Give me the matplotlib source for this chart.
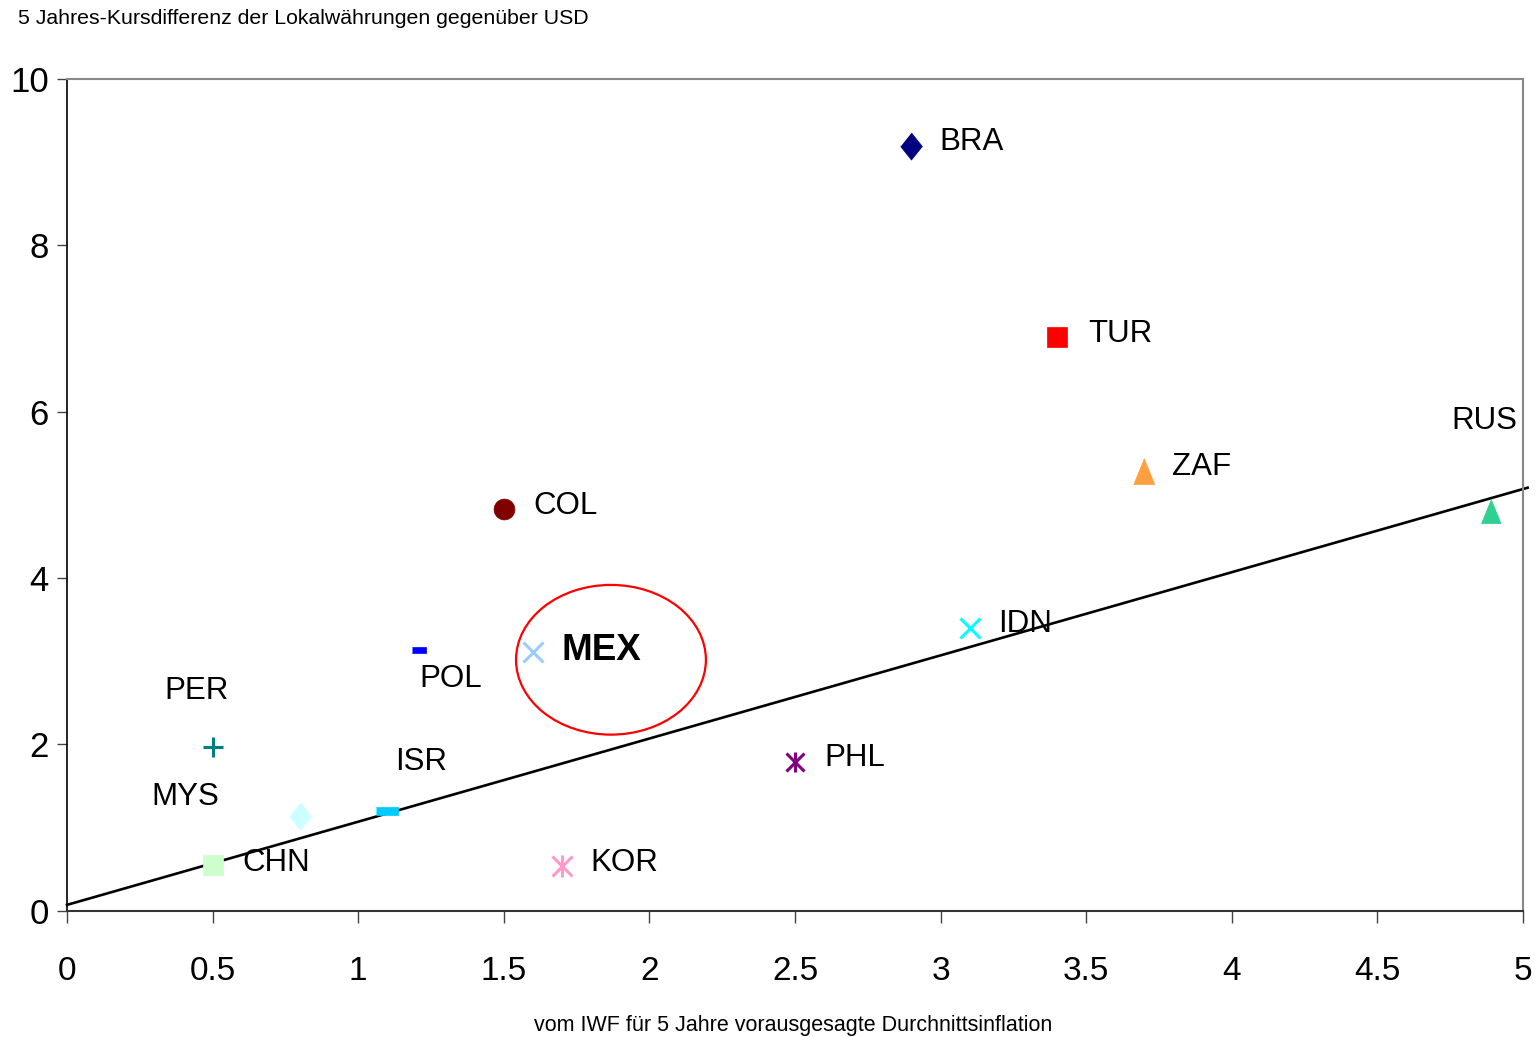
import matplotlib
matplotlib.use("Agg")
import matplotlib.pyplot as plt
from matplotlib.patches import Ellipse
import numpy as np

# ---------------- data ----------------
countries = ["BRA", "TUR", "ZAF", "RUS", "COL", "IDN", "MEX", "POL",
             "PER", "PHL", "ISR", "MYS", "CHN", "KOR"]
inflation = [2.90, 3.40, 3.70, 4.89, 1.50, 3.10, 1.60, 1.21,
             0.50, 2.50, 1.10, 0.80, 0.50, 1.70]
fx_diff = [9.19, 6.90, 5.29, 4.81, 4.83, 3.40, 3.11, 3.14,
           1.97, 1.79, 1.20, 1.14, 0.55, 0.54]
trend_intercept = 0.07
trend_slope = 1.0
trend_x = [0.0, 5.016]
x_ticks = [0, 0.5, 1, 1.5, 2, 2.5, 3, 3.5, 4, 4.5, 5]
x_tick_labels = ["0", "0.5", "1", "1.5", "2", "2.5", "3", "3.5", "4", "4.5", "5"]
y_ticks = [0, 2, 4, 6, 8, 10]
y_tick_labels = ["0", "2", "4", "6", "8", "10"]
highlight = "MEX"

# ---------------- styles ----------------
diamond = [(0, 1), (0.8, 0), (0, -1), (-0.8, 0)]
tri = [(0, 1), (-0.82, -1), (0.82, -1)]
dash_pol = [(-1, -0.43), (1, -0.43), (1, 0.43), (-1, 0.43)]
dash_isr = [(-1, -0.32), (1, -0.32), (1, 0.32), (-1, 0.32)]

styles = {
    "BRA": dict(marker=diamond, color="#000080", ms=19.5),
    "TUR": dict(marker="s", color="#FF0000", ms=14.5),
    "ZAF": dict(marker=tri, color="#FF9F40", ms=18.7),
    "RUS": dict(marker=tri, color="#2ED18F", ms=17.5),
    "COL": dict(marker="o", color="#800000", ms=15),
    "IDN": dict(marker="x", color="#00FFFF", ms=15, mew=2.2),
    "MEX": dict(marker="x", color="#99CCFF", ms=14.5, mew=2.2),
    "POL": dict(marker=dash_pol, color="#0000FF", ms=10),
    "PER": dict(marker="+", color="#008080", ms=14, mew=2.2),
    "PHL": dict(marker="ast", color="#800080", ms=15, mew=2.2),
    "ISR": dict(marker=dash_isr, color="#00CCFF", ms=16),
    "MYS": dict(marker=diamond, color="#CCFFFF", ms=19.5),
    "CHN": dict(marker="s", color="#CCFFCC", ms=15),
    "KOR": dict(marker="ast", color="#FF99CC", ms=16, mew=2.2),
}
# label offsets in pixels (dx, dy) and horizontal alignment
label_off = {
    "BRA": (28, 4, "left"), "TUR": (31, 3, "left"), "ZAF": (28, 4, "left"),
    "RUS": (26, 90, "right"), "COL": (30, 3, "left"), "IDN": (28, 4, "left"),
    "MEX": (29, 2, "left"), "POL": (0, -29, "left"), "PER": (-48, 56, "left"),
    "PHL": (29, 4, "left"), "ISR": (8, 49, "left"), "MYS": (-149, 19, "left"),
    "CHN": (30, 2, "left"), "KOR": (28, 3, "left"),
}

plt.rcParams["font.family"] = ["Liberation Sans", "DejaVu Sans"]
narrow = ["Liberation Sans Narrow", "Liberation Sans", "DejaVu Sans"]

fig = plt.figure(figsize=(15.37, 10.37), dpi=100)
ax = fig.add_axes([67 / 1537, 1 - 910.7 / 1037, (1523 - 67) / 1537, (910.7 - 79) / 1037])
ax.set_xlim(0, 5)
ax.set_ylim(0, 10)

# trend line
tx = np.array(trend_x)
ax.plot(tx, trend_intercept + trend_slope * tx, color="black", lw=1.9, clip_on=False, zorder=2)

for c, x, y in zip(countries, inflation, fx_diff):
    st = styles[c]
    if st["marker"] == "ast":
        ax.plot([x], [y], marker="x", color=st["color"], ms=st["ms"] * 0.9,
                mew=st["mew"], ls="none", zorder=3)
        ax.plot([x], [y], marker="|", color=st["color"], ms=st["ms"],
                mew=st["mew"], ls="none", zorder=3)
    elif st["marker"] in ("x", "+"):
        ax.plot([x], [y], marker=st["marker"], color=st["color"], ms=st["ms"],
                mew=st["mew"], ls="none", zorder=3)
    else:
        ax.plot([x], [y], marker=st["marker"], color=st["color"], ms=st["ms"],
                mec=st["color"], mew=0.5, ls="none", zorder=3)
    dx, dy, ha = label_off[c]
    is_hl = c == highlight
    ax.annotate(c, xy=(x, y), xytext=(dx, dy), textcoords="offset pixels",
                ha=ha, va="center", fontsize=26.5 if is_hl else 22.5,
                fontweight="bold" if is_hl else "normal", zorder=4)

# highlight ellipse around MEX
ax.add_patch(Ellipse((1.868, 3.017), 0.652, 1.80, fill=False, ec="#FF0000", lw=1.6, zorder=5))

# axes styling
for side in ["top", "right"]:
    ax.spines[side].set_color("#888888")
    ax.spines[side].set_linewidth(1.5)
ax.spines["left"].set_color("black")
ax.spines["bottom"].set_color("#333333")
ax.spines["left"].set_linewidth(1.2)
ax.spines["bottom"].set_linewidth(1.5)

ax.set_xticks(x_ticks)
ax.set_xticklabels(x_tick_labels, fontfamily=narrow, fontsize=24)
ax.set_yticks(y_ticks)
ax.set_yticklabels(y_tick_labels, fontfamily=narrow, fontsize=25)
ax.tick_params(axis="x", direction="out", length=8.6, width=1, color="#444444", pad=24)
ax.tick_params(axis="y", direction="out", length=7, width=1, color="#444444", pad=6)

fig.text(18 / 1537, 1 - 18 / 1037, "5 Jahres-Kursdifferenz der Lokalwährungen gegenüber USD",
         ha="left", va="center", fontsize=15.3)
fig.text(793 / 1537, 1 - 1025 / 1037, "vom IWF für 5 Jahre vorausgesagte Durchnittsinflation",
         ha="center", va="center", fontsize=15.5)

fig.savefig("out.png", dpi=100)
